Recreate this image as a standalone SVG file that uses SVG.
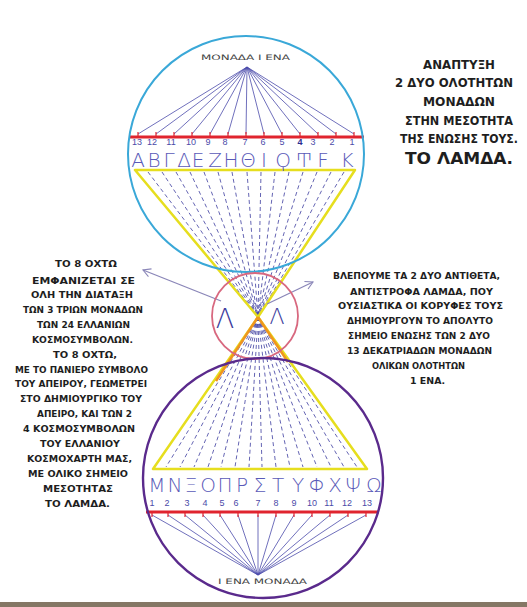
<svg xmlns="http://www.w3.org/2000/svg" width="527" height="607" viewBox="0 0 527 607">
<defs>
<style>
.body{font-family:"DejaVu Sans","Noto Sans",sans-serif;font-weight:bold;font-size:9.5px;fill:#1e1e1e}
.big{font-family:"DejaVu Sans","Noto Sans",sans-serif;font-weight:bold;font-size:11.5px;fill:#1e1e1e}
.lbl{font-family:"DejaVu Sans","Noto Sans",sans-serif;font-size:7.5px;fill:#444}
.num{font-family:"Liberation Sans","DejaVu Sans",sans-serif;font-size:9px;fill:#4a4aa8;text-anchor:middle}
.let{font-family:"DejaVu Sans","Noto Sans",sans-serif;font-size:20px;fill:#5a5ab8;text-anchor:middle;font-weight:300}
.thin{stroke:#4b4bab;stroke-width:0.8;fill:none}
.dash{stroke:#3c3ca0;stroke-width:0.8;stroke-dasharray:4 3;fill:none}
.red{stroke:#e0242e;stroke-width:3;fill:none}
.tick{stroke:#e0242e;stroke-width:1.2}
.yel{stroke:#e6de1e;stroke-width:2.5;fill:none;stroke-linejoin:round}
.org{stroke:#f0961e;stroke-width:2.5;fill:none}
.arrow{stroke:#8a86b8;stroke-width:1.3;fill:none}
</style>
<marker id="ah" viewBox="0 0 12 12" refX="10" refY="6" markerWidth="10" markerHeight="10" orient="auto" markerUnits="userSpaceOnUse">
<path d="M1,1 L10,6 L1,11" fill="none" stroke="#8a86b8" stroke-width="1.3"/>
</marker>
</defs>
<rect width="527" height="607" fill="#ffffff"/>

<g id="connectors">
 <g class="thin">
  <path d="M247,67L138,134M247,67L156,134M247,67L174,134M247,67L192,134M247,67L210,134M247,67L228,134M247,67L246,134M247,67L264,134M247,67L282,134M247,67L300,134M247,67L318,134M247,67L336,134M247,67L354,134"/>
  <path d="M258,575L152,515M258,575L168,515M258,575L185,515M258,575L203,515M258,575L220,515M258,575L238,515M258,575L258,515M258,575L276,515M258,575L294,515M258,575L312,515M258,575L330,515M258,575L348,515M258,575L366,515"/>
 </g>
 <g class="dash">
  <path d="M148,172L258,317M162,172L258,317M176,172L258,317M190,172L258,317M204,172L258,317M218,172L258,317M232,172L258,317M247,172L258,317M261,172L258,317M275,172L258,317M289,172L258,317M303,172L258,317M317,172L258,317M331,172L258,317M344,172L258,317"/>
  <path d="M258,317L166,467M258,317L180,467M258,317L194,467M258,317L208,467M258,317L221,467M258,317L235,467M258,317L249,467M258,317L262,467M258,317L276,467M258,317L290,467M258,317L303,467M258,317L317,467M258,317L331,467M258,317L344,467M258,317L357,467"/>
 </g>
 <path class="yel" d="M135,170L355,170L258,317Z"/>
 <path class="yel" d="M258,317L153,469L367,469Z"/>
 <path class="org" d="M258,317L216,381M258,317L288,362"/>
 <path class="red" d="M129,137L364,137"/>
 <path class="tick" d="M138,132V137M156,132V137M174,132V137M192,132V137M210,132V137M228,132V137M246,132V137M264,132V137M282,132V137M300,132V137M318,132V137M336,132V137M354,132V137"/>
 <path class="red" d="M146,512L379,512"/>
 <path class="tick" d="M152,512V517M168,512V517M185,512V517M203,512V517M220,512V517M238,512V517M258,512V517M276,512V517M294,512V517M312,512V517M330,512V517M348,512V517M366,512V517"/>
 <path class="arrow" d="M221,301L143,270" marker-end="url(#ah)"/>
 <path class="arrow" d="M267,304L313,282" marker-end="url(#ah)"/>
</g>

<g id="top-circle">
 <circle cx="246" cy="154" r="118" fill="none" stroke="#3aa8d8" stroke-width="2"/>
 <text class="lbl" x="201" y="60" textLength="89" lengthAdjust="spacingAndGlyphs">ΜΟΝΑΔΑ Ι ΕΝΑ</text>
 <g>
  <text class="num" x="137" y="145">13</text><text class="num" x="152" y="145">12</text><text class="num" x="171" y="145">11</text><text class="num" x="191" y="145">10</text><text class="num" x="208" y="145">9</text><text class="num" x="225" y="145">8</text><text class="num" x="245" y="145">7</text><text class="num" x="263" y="145">6</text><text class="num" x="282" y="145">5</text><text class="num" x="300" y="145" style="fill:#2a2a90;font-weight:bold">4</text><text class="num" x="313" y="145">3</text><text class="num" x="332" y="145">2</text><text class="num" x="352" y="145">1</text>
 </g>
 <g>
  <text class="let" x="138" y="167">Α</text><text class="let" x="154" y="167">Β</text><text class="let" x="169" y="167">Γ</text><text class="let" x="184" y="167">Δ</text><text class="let" x="198" y="167">Ε</text><text class="let" x="215" y="167">Ζ</text><text class="let" x="231" y="167">Η</text><text class="let" x="248" y="167">Θ</text><text class="let" x="264" y="167">Ι</text><text class="let" x="283" y="167">Ϙ</text><text class="let" x="304" y="167">Ͳ</text><text class="let" x="323" y="167">Ϝ</text><text class="let" x="347" y="167">Κ</text>
 </g>
</g>

<g id="middle-circle">
 <circle cx="255" cy="316" r="43" fill="none" stroke="#d8687f" stroke-width="1.8"/>
 <text x="225" y="328" style="font-family:'DejaVu Sans',sans-serif;font-size:27px;fill:#3c3c9c;text-anchor:middle;font-weight:300">Λ</text>
 <text x="277" y="324" style="font-family:'DejaVu Sans',sans-serif;font-size:22px;fill:#3c3c9c;text-anchor:middle;font-weight:300">Λ</text>
</g>

<g id="bottom-circle">
 <circle cx="263" cy="478" r="120" fill="none" stroke="#5a2a8c" stroke-width="2.4"/>
 <g>
  <text class="let" x="157" y="492">Μ</text><text class="let" x="175" y="492">Ν</text><text class="let" x="191" y="492">Ξ</text><text class="let" x="208" y="492">Ο</text><text class="let" x="225" y="492">Π</text><text class="let" x="242" y="492">Ρ</text><text class="let" x="260" y="492">Σ</text><text class="let" x="278" y="492">Τ</text><text class="let" x="298" y="492">Υ</text><text class="let" x="317" y="492">Φ</text><text class="let" x="335" y="492">Χ</text><text class="let" x="353" y="492">Ψ</text><text class="let" x="374" y="492">Ω</text>
 </g>
 <g>
  <text class="num" x="152" y="506">1</text><text class="num" x="167" y="506">2</text><text class="num" x="187" y="506">3</text><text class="num" x="205" y="506">4</text><text class="num" x="222" y="506">5</text><text class="num" x="236" y="506">6</text><text class="num" x="258" y="506">7</text><text class="num" x="276" y="506">8</text><text class="num" x="294" y="506">9</text><text class="num" x="312" y="506">10</text><text class="num" x="329" y="506">11</text><text class="num" x="347" y="506">12</text><text class="num" x="367" y="506">13</text>
 </g>
 <text class="lbl" x="218" y="584" textLength="89" lengthAdjust="spacingAndGlyphs">Ι ΕΝΑ ΜΟΝΑΔΑ</text>
</g>

<g id="title-text">
 <text class="big" x="423" y="69" textLength="72" lengthAdjust="spacingAndGlyphs">ΑΝΑΠΤΥΞΗ</text>
 <text class="big" x="395" y="87" textLength="118" lengthAdjust="spacingAndGlyphs">2 ΔΥΟ ΟΛΟΤΗΤΩΝ</text>
 <text class="big" x="423" y="106" textLength="72" lengthAdjust="spacingAndGlyphs">ΜΟΝΑΔΩΝ</text>
 <text class="big" x="405" y="125" textLength="108" lengthAdjust="spacingAndGlyphs">ΣΤΗΝ ΜΕΣΟΤΗΤΑ</text>
 <text class="big" x="400" y="143" textLength="118" lengthAdjust="spacingAndGlyphs">ΤΗΣ ΕΝΩΣΗΣ ΤΟΥΣ.</text>
 <text class="big" x="405" y="164" textLength="108" lengthAdjust="spacingAndGlyphs" style="font-size:15px">ΤΟ ΛΑΜΔΑ.</text>
</g>

<g id="left-text">
 <text class="body" x="55" y="267" textLength="62" lengthAdjust="spacingAndGlyphs">ΤΟ 8 ΟΧΤΩ</text>
 <text class="body" x="32" y="284" textLength="103" lengthAdjust="spacingAndGlyphs">ΕΜΦΑΝΙΖΕΤΑΙ ΣΕ</text>
 <text class="body" x="31" y="298" textLength="102" lengthAdjust="spacingAndGlyphs">ΟΛΗ ΤΗΝ ΔΙΑΤΑΞΗ</text>
 <text class="body" x="23" y="313" textLength="120" lengthAdjust="spacingAndGlyphs">ΤΩΝ 3 ΤΡΙΩΝ ΜΟΝΑΔΩΝ</text>
 <text class="body" x="37" y="328" textLength="93" lengthAdjust="spacingAndGlyphs">ΤΩΝ 24 ΕΛΛΑΝΙΩΝ</text>
 <text class="body" x="32" y="343" textLength="101" lengthAdjust="spacingAndGlyphs">ΚΟΣΜΟΣΥΜΒΟΛΩΝ.</text>
 <text class="body" x="53" y="358" textLength="64" lengthAdjust="spacingAndGlyphs">ΤΟ 8 ΟΧΤΩ,</text>
 <text class="body" x="15" y="373" textLength="133" lengthAdjust="spacingAndGlyphs">ΜΕ ΤΟ ΠΑΝΙΕΡΟ ΣΥΜΒΟΛΟ</text>
 <text class="body" x="15" y="387" textLength="132" lengthAdjust="spacingAndGlyphs">ΤΟΥ ΑΠΕΙΡΟΥ, ΓΕΩΜΕΤΡΕΙ</text>
 <text class="body" x="20" y="402" textLength="122" lengthAdjust="spacingAndGlyphs">ΣΤΟ ΔΗΜΙΟΥΡΓΙΚΟ ΤΟΥ</text>
 <text class="body" x="37" y="417" textLength="95" lengthAdjust="spacingAndGlyphs">ΑΠΕΙΡΟ, ΚΑΙ ΤΩΝ 2</text>
 <text class="body" x="23" y="432" textLength="112" lengthAdjust="spacingAndGlyphs">4 ΚΟΣΜΟΣΥΜΒΟΛΩΝ</text>
 <text class="body" x="40" y="447" textLength="80" lengthAdjust="spacingAndGlyphs">ΤΟΥ ΕΛΛΑΝΙΟΥ</text>
 <text class="body" x="27" y="462" textLength="105" lengthAdjust="spacingAndGlyphs">ΚΟΣΜΟΧΑΡΤΗ ΜΑΣ,</text>
 <text class="body" x="28" y="477" textLength="100" lengthAdjust="spacingAndGlyphs">ΜΕ ΟΛΙΚΟ ΣΗΜΕΙΟ</text>
 <text class="body" x="43" y="492" textLength="70" lengthAdjust="spacingAndGlyphs">ΜΕΣΟΤΗΤΑΣ</text>
 <text class="body" x="45" y="507" textLength="65" lengthAdjust="spacingAndGlyphs">ΤΟ ΛΑΜΔΑ.</text>
</g>

<g id="right-text">
 <text class="body" x="333" y="279" textLength="167" lengthAdjust="spacingAndGlyphs">ΒΛΕΠΟΥΜΕ ΤΑ 2 ΔΥΟ ΑΝΤΙΘΕΤΑ,</text>
 <text class="body" x="350" y="295" textLength="143" lengthAdjust="spacingAndGlyphs">ΑΝΤΙΣΤΡΟΦΑ ΛΑΜΔΑ, ΠΟΥ</text>
 <text class="body" x="338" y="309" textLength="165" lengthAdjust="spacingAndGlyphs">ΟΥΣΙΑΣΤΙΚΑ ΟΙ ΚΟΡΥΦΕΣ ΤΟΥΣ</text>
 <text class="body" x="347" y="324" textLength="146" lengthAdjust="spacingAndGlyphs">ΔΗΜΙΟΥΡΓΟΥΝ ΤΟ ΑΠΟΛΥΤΟ</text>
 <text class="body" x="348" y="339" textLength="142" lengthAdjust="spacingAndGlyphs">ΣΗΜΕΙΟ ΕΝΩΣΗΣ ΤΩΝ 2 ΔΥΟ</text>
 <text class="body" x="347" y="354" textLength="145" lengthAdjust="spacingAndGlyphs">13 ΔΕΚΑΤΡΙΑΔΩΝ ΜΟΝΑΔΩΝ</text>
 <text class="body" x="372" y="369" textLength="93" lengthAdjust="spacingAndGlyphs">ΟΛΙΚΩΝ ΟΛΟΤΗΤΩΝ</text>
 <text class="body" x="410" y="384" textLength="35" lengthAdjust="spacingAndGlyphs">1 ΕΝΑ.</text>
</g>

<rect x="0" y="602" width="527" height="5" fill="#857765"/>
</svg>
